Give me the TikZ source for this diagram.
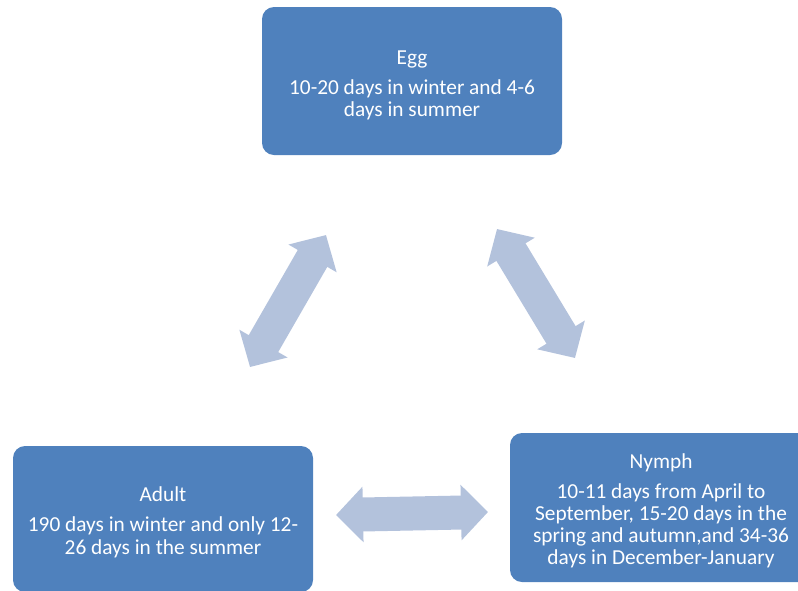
\documentclass[tikz,border=0pt]{standalone}
\usepackage{fontspec}
\setmainfont{Carlito}
\usetikzlibrary{arrows.meta}
\definecolor{stageblue}{HTML}{4F81BD}
\definecolor{linkblue}{HTML}{B3C2DC}
\begin{document}
\begin{tikzpicture}[x=0.75pt,y=-0.75pt,
  stage/.style={fill=stageblue, rounded corners=9pt, inner sep=0pt},
  stagetext/.style={text=white, align=center, inner sep=0pt,
    font=\fontsize{16}{16.7}\selectfont},
  link/.style={draw=linkblue, line width=25.5pt,
    {Triangle[length=20.25pt,width=40.5pt]}-{Triangle[length=20.25pt,width=40.5pt]}}
]
\useasboundingbox (0,0) rectangle (798,590);
\clip (0,0) rectangle (798,590);

% life-cycle stage boxes
\node[stage, minimum width=225pt, minimum height=111pt] (egg) at (412,81) {};
\node[stage, minimum width=225pt, minimum height=109.5pt] (adult) at (163,519) {};
\node[stage, minimum width=226.5pt, minimum height=111.75pt] (nymph) at (661,507.5) {};

% their captions
\node[stagetext] (eggtext) at ([yshift=-3.2pt]egg.center)
  {Egg\\[5.8pt]10-20 days in winter and 4-6\\days in summer};
\node[stagetext] (adulttext) at ([yshift=-2.4pt]adult.center)
  {Adult\\[5.8pt]190 days in winter and only 12-\\26 days in the summer};
\node[stagetext] (nymphtext) at ([yshift=-2.4pt]nymph.center)
  {Nymph\\[5.8pt]10-11 days from April to\\September, 15-20 days in the\\spring and autumn,and 34-36\\days in December-January};

% ends of the two-way block arrows
\coordinate (la) at (250,367);
\coordinate (lb) at (326,235);
\coordinate (ra) at (497,229);
\coordinate (rb) at (575,358);
\coordinate (ba) at (336,515);
\coordinate (bb) at (488,512);

\draw[link] (la) -- (lb);
\draw[link] (ra) -- (rb);
\draw[link] (ba) -- (bb);
\end{tikzpicture}
\end{document}
